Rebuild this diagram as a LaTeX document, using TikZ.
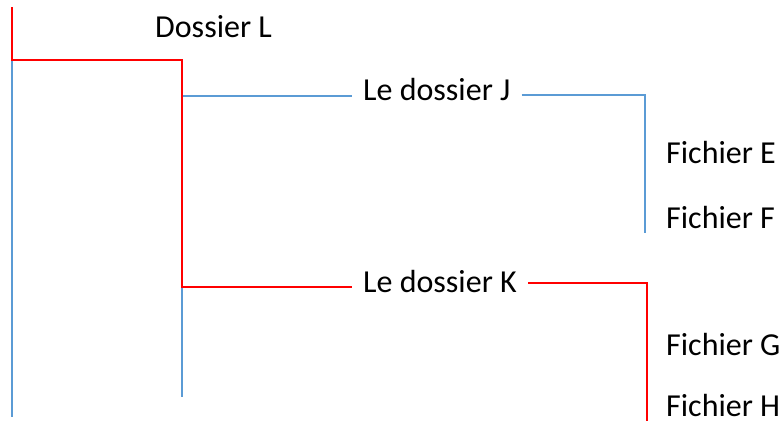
\documentclass[tikz,border=0pt]{standalone}
\usepackage{fontspec}
\setmainfont{Carlito}
\definecolor{tred}{RGB}{255,0,0}
\definecolor{tblue}{RGB}{91,155,213}
\begin{document}
\begin{tikzpicture}[x=1pt,y=-1pt,
  lbl/.style={font=\fontsize{32}{38}\selectfont, anchor=base west, inner ysep=0pt, inner xsep=0pt},
  dir/.style={font=\fontsize{32}{38}\selectfont, anchor=base west, inner ysep=0pt, inner xsep=11pt},
  redl/.style={draw=tred, line width=1.4pt},
  bluel/.style={draw=tblue, line width=1.4pt}]
\useasboundingbox (0,0) rectangle (782,421);
\node[lbl] (L) at (155,37) {Dossier L};
\node[dir] (J) at (352,100) {Le dossier J};
\node[dir] (K) at (352,292) {Le dossier K};
\node[lbl] (E) at (666,163) {Fichier E};
\node[lbl] (F) at (666,228) {Fichier F};
\node[lbl] (G) at (666,355) {Fichier G};
\node[lbl] (H) at (666,416) {Fichier H};
\coordinate (rt) at (12,7);
\coordinate (c0) at (12,60);
\coordinate (c1) at (182,60);
\coordinate (jv) at (182,96);
\coordinate (kv) at (182,287);
\coordinate (bl) at (12,417);
\coordinate (bb) at (182,397);
\coordinate (jc) at (645,95);
\coordinate (jb) at (645,233);
\coordinate (kc) at (647,283);
\coordinate (kb) at (647,421);
% blue lines
\draw[bluel] (c0) -- (bl);
\draw[bluel] (kv) -- (bb);
\draw[bluel] (jv) -- (jv -| J.west);
\draw[bluel] (J.east |- jc) -- (jc) -- (jb);
% red lines
\draw[redl] (rt) -- (c0) -- (c1) -- (kv) -- (kv -| K.west);
\draw[redl] (K.east |- kc) -- (kc) -- (kb);
\end{tikzpicture}
\end{document}
